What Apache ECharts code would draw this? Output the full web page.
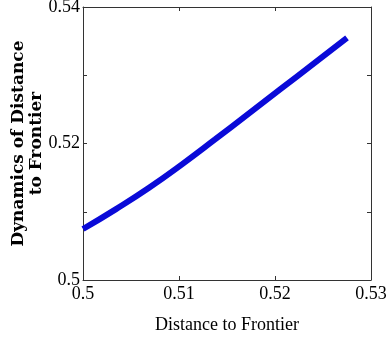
<!DOCTYPE html>
<html><head><meta charset="utf-8">
<script src="https://cdn.jsdelivr.net/npm/echarts@6/dist/echarts.min.js"></script>
<style>html,body{margin:0;padding:0;background:#fff}#c{width:386px;height:341px}</style>
</head><body><div id="c"></div>
<script>
const xValues = [0.5, 0.50344, 0.50688, 0.51031, 0.51375, 0.51719, 0.52063, 0.52406, 0.5275];
const yValues = [0.50747, 0.51039, 0.51351, 0.51694, 0.52059, 0.52431, 0.52803, 0.53174, 0.53546];
const xTickLabels = ['0.5', '0.51', '0.52', '0.53'];
const yTickLabels = ['0.5', '0.52', '0.54'];
const xName = 'Distance to Frontier';
const yName = 'Dynamics of Distance\nto Frontier';

const chart = echarts.init(document.getElementById('c'));
const serif = '"Liberation Serif", "DejaVu Serif", serif';
const axisLine = {show: true, lineStyle: {color: '#333', width: 1}};
const tick = {show: true, inside: true, length: 4, lineStyle: {color: '#333'}};
function fmt(list) {
  return v => { const s = String(+v.toFixed(4)); return list.includes(s) ? s : ''; };
}
chart.setOption({
  animation: false,
  grid: {left: 83, right: 15, top: 7, bottom: 61, containLabel: false, outerBoundsMode: 'none'},
  xAxis: [
    {type: 'value', min: 0.5, max: 0.53, interval: 0.01, position: 'bottom',
     axisLine, axisTick: tick, splitLine: {show: false},
     axisLabel: {color: '#000', fontFamily: serif, fontSize: 18, margin: 5, formatter: fmt(xTickLabels)},
     name: xName, nameLocation: 'middle', nameGap: 36, nameMoveOverlap: false,
     nameTextStyle: {color: '#000', fontFamily: serif, fontSize: 18}},
    {type: 'value', min: 0.5, max: 0.53, interval: 0.01, position: 'top',
     axisLine, axisTick: tick, axisLabel: {show: false}, splitLine: {show: false}}
  ],
  yAxis: [
    {type: 'value', min: 0.5, max: 0.54, interval: 0.01, position: 'left',
     axisLine, axisTick: tick, splitLine: {show: false},
     axisLabel: {color: '#000', fontFamily: serif, fontSize: 18, margin: 3, formatter: fmt(yTickLabels)},
     name: yName, nameLocation: 'middle', nameGap: 37, nameRotate: 90, nameMoveOverlap: false,
     nameTextStyle: {color: '#000', fontFamily: '"DejaVu Serif", serif', fontSize: 17, fontWeight: 'bold', lineHeight: 18}},
    {type: 'value', min: 0.5, max: 0.54, interval: 0.01, position: 'right',
     axisLine, axisTick: tick, axisLabel: {show: false}, splitLine: {show: false}}
  ],
  series: [{
    type: 'line', xAxisIndex: 0, yAxisIndex: 0, smooth: true, showSymbol: false,
    data: xValues.map((x, i) => [x, yValues[i]]),
    lineStyle: {color: '#0a0ad8', width: 6}
  }]
});
</script></body></html>
